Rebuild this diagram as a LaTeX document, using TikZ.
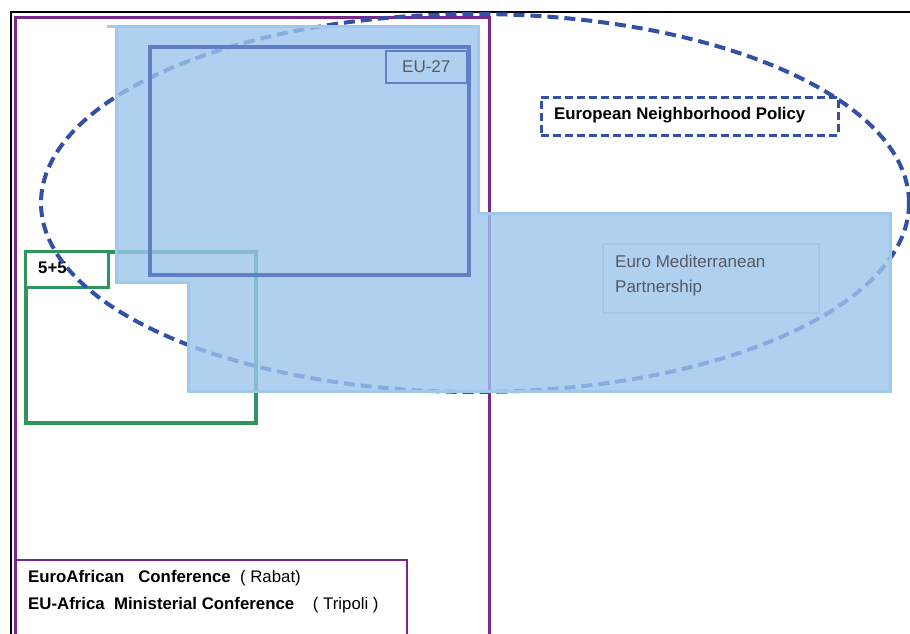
\documentclass[tikz,border=0pt]{standalone}
\usepackage{fontspec}
\setmainfont{Liberation Sans}
\usetikzlibrary{shapes.geometric}
\definecolor{purp}{RGB}{120,40,140}
\definecolor{grn}{RGB}{46,150,90}
\definecolor{dblue}{RGB}{50,80,165}
\definecolor{eublue}{RGB}{95,128,200}
\definecolor{fillblue}{RGB}{155,197,235}
\definecolor{edgeblue}{RGB}{160,200,232}
\definecolor{medgrey}{RGB}{85,90,100}
\begin{document}
\begin{tikzpicture}[x=1pt,y=-1pt,
  frame/.style={draw=black,line width=2.5pt},
  purpbox/.style={draw=purp,line width=3pt},
  greenbox/.style={draw=grn,line width=4pt},
  dashline/.style={draw=dblue,line width=4pt,dash pattern=on 11pt off 6pt},
  lbl/.style={font=\fontsize{16.8}{20}\selectfont\bfseries,inner sep=0pt,anchor=west},
  greytxt/.style={font=\fontsize{17}{25}\selectfont,text=medgrey,inner sep=0pt,anchor=west,align=left}]
\useasboundingbox (0,0) rectangle (910,633);
% black frame
\coordinate (f1) at (910,12);
\coordinate (f2) at (11,12);
\coordinate (f3) at (11,640);
\draw[frame] (f1) -- (f2) -- (f3);
% purple rectangles
\node[purpbox,minimum width=474pt,minimum height=630pt,anchor=north west,inner sep=0pt] (afr) at (14,16) {};
\node[purpbox,line width=2.2pt,minimum width=392pt,minimum height=90pt,anchor=north west,inner sep=0pt] (conf) at (14,559) {};
% green 5+5
\node[greenbox,minimum width=230pt,minimum height=171pt,anchor=north west,inner sep=0pt] (five) at (24,250) {};
\node[draw=grn,line width=2.5pt,fill=white,minimum width=83pt,minimum height=36pt,anchor=north west,inner sep=0pt] (fivelbl) at (24,250) {};
\node[lbl] (fivetxt) at (38,268) {5+5};
% dashed ellipse
\node[dashline,ellipse,minimum width=868pt,minimum height=378pt,inner sep=0pt] (enp) at (475,203) {};
% blue shaded region
\coordinate (b1) at (116,26);
\coordinate (b2) at (478,26);
\coordinate (b3) at (478,213);
\coordinate (b4) at (890,213);
\coordinate (b5) at (890,391);
\coordinate (b6) at (188,391);
\coordinate (b7) at (188,282);
\coordinate (b8) at (116,282);
\coordinate (b0) at (107,26);
\fill[fillblue,opacity=0.8] (b1) -- (b2) -- (b3) -- (b4) -- (b5) -- (b6) -- (b7) -- (b8) -- cycle;
\draw[edgeblue,line width=3pt] (b1) -- (b2) -- (b3) -- (b4) -- (b5) -- (b6) -- (b7) -- (b8) -- cycle;
\draw[edgeblue,line width=3pt] (b0) -- (b1);
% EU-27
\node[draw=eublue,line width=3.5pt,minimum width=319pt,minimum height=228pt,anchor=north west,inner sep=0pt] (eu) at (148,45) {};
\node[draw=eublue,line width=1.5pt,minimum width=81pt,minimum height=32pt,anchor=north west,inner sep=0pt] (eulbl) at (385,50) {};
\node[font=\fontsize{17}{20}\selectfont,text=medgrey,inner sep=0pt] (eutxt) at (eulbl.center) {EU-27};
% Euro Med
\node[draw=edgeblue,line width=1.5pt,minimum width=216pt,minimum height=69pt,anchor=north west,inner sep=0pt] (emp) at (602,243) {};
\node[greytxt,anchor=north west] (emptxt) at (615,255) {Euro Mediterranean\\Partnership};
% ENP label
\node[draw=dblue,line width=2.8pt,dash pattern=on 8pt off 4pt,fill=white,minimum width=297pt,minimum height=38pt,anchor=north west,inner sep=0pt] (enplbl) at (540,96) {};
\node[lbl] (enptxt) at (554,115) {European Neighborhood Policy};
% conference text
\node[lbl] (c1) at (28,578) {EuroAfrican\ \ \ Conference\ \ \textmd{( Rabat)}};
\node[lbl] (c2) at (28,605) {EU-Africa\ \ Ministerial Conference\ \ \ \ \textmd{( Tripoli )}};
\end{tikzpicture}
\end{document}
